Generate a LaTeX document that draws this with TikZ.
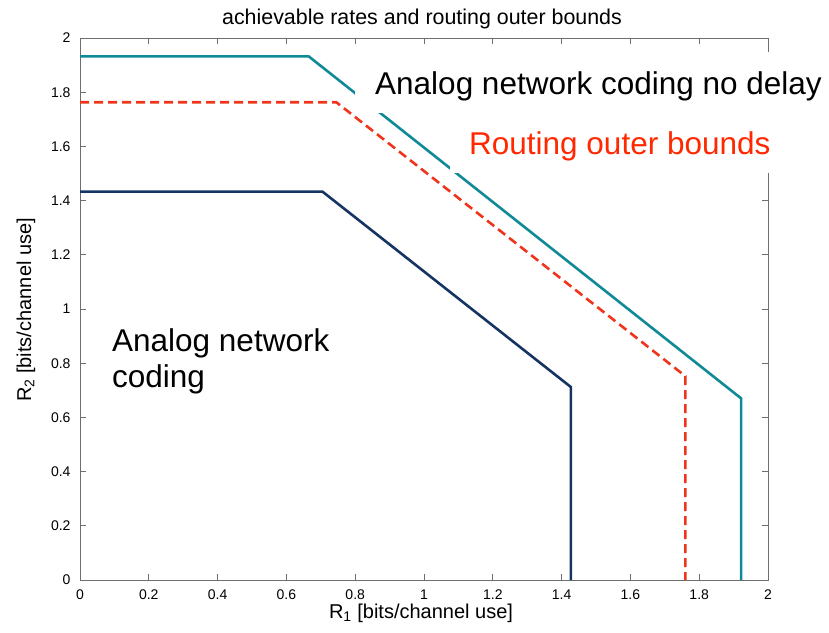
\documentclass[tikz,border=0pt]{standalone}
\usepackage{fontspec}
\setmainfont{Liberation Sans}
\definecolor{cteal}{RGB}{16,138,150}
\definecolor{cnavy}{RGB}{22,52,98}
\definecolor{cred}{RGB}{240,52,28}
\definecolor{clabel}{RGB}{255,40,0}
\definecolor{cgris}{RGB}{110,110,110}

\begin{document}
\begin{tikzpicture}[x=344pt,y=271pt,
  curva/.style={line width=2.6pt},
  caja/.style={fill=white,inner ysep=0pt,text depth=18pt,anchor=base west,
    font=\fontsize{31.5}{29}\selectfont},
  ticklab/.style={font=\fontsize{14}{14}\selectfont}]
\useasboundingbox (-80pt,-52pt) rectangle (749pt,580pt);

% Marco y marcas
\draw[cgris,line width=0.9pt] (0,0) rectangle (2,2);
\foreach \k/\lab in {0/0,1/0.2,2/0.4,3/0.6,4/0.8,5/1,6/1.2,7/1.4,8/1.6,9/1.8,10/2}{
  \draw[cgris,line width=0.9pt] (\k/5,0) -- ++(0,6pt) (\k/5,2) -- ++(0,-6pt)
    (0,\k/5) -- ++(6pt,0) (2,\k/5) -- ++(-6pt,0);
  \node[ticklab,anchor=base] (xl\k) at (\k/5,-19pt) {\lab};
  \node[ticklab,anchor=east] (yl\k) at (-6pt,\k/5) {\lab};
}

% Titulo y ejes
\node[anchor=base,font=\fontsize{21.4}{22}\selectfont] (titulo) at (342pt,555pt) {achievable rates and routing outer bounds};
\node[anchor=base,font=\fontsize{20}{20}\selectfont] (xlab) at (341pt,-38pt) {R\textsubscript{1} [bits/channel use]};
\node[rotate=90,font=\fontsize{20}{20}\selectfont] (ylab) at (-54pt,270pt) {R\textsubscript{2} [bits/channel use]};

% Cota de routing (discontinua)
\draw[curva,cred,dash pattern=on 9pt off 5pt] (0,1.763) -- (0.745,1.763) -- (1.760,0.752) -- (1.760,0);
% Analog network coding sin retardo
\draw[curva,cteal] (0,1.932) -- (0.665,1.932) -- (1.922,0.670) -- (1.922,0);
% Analog network coding
\draw[curva,cnavy] (0,1.433) -- (0.705,1.433) -- (1.427,0.712) -- (1.427,0);

% Etiquetas
\node[caja,inner xsep=20pt,text height=43pt] (nodelay) at (275pt,485pt) {Analog network coding no delay};
\node[caja,inner xsep=19pt,text height=42pt,text=clabel] (routing) at (370pt,425pt) {Routing outer bounds};
\node[anchor=base west,inner sep=0pt,align=left,font=\fontsize{31.5}{36}\selectfont] (anc) at (32pt,193pt) {Analog network\\coding};
\end{tikzpicture}
\end{document}
